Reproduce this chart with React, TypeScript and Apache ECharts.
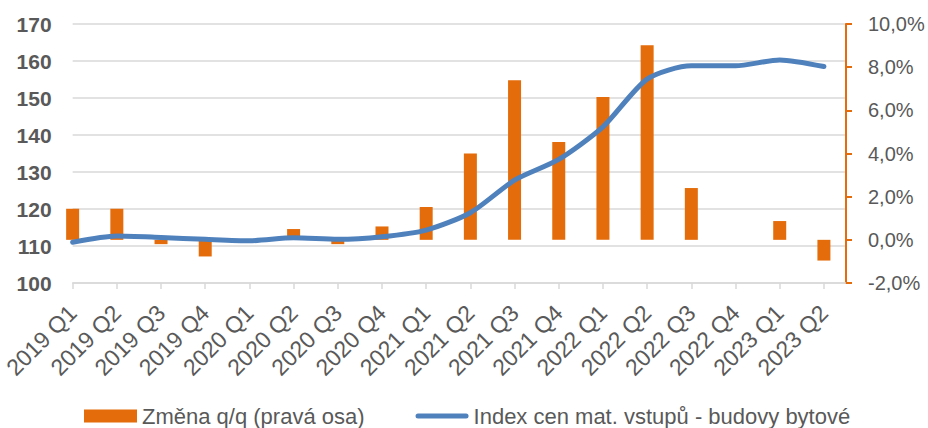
import React, { useEffect, useRef } from "react";
import * as echarts from "echarts";

const categories = [
  "2019 Q1", "2019 Q2", "2019 Q3", "2019 Q4",
  "2020 Q1", "2020 Q2", "2020 Q3", "2020 Q4",
  "2021 Q1", "2021 Q2", "2021 Q3", "2021 Q4",
  "2022 Q1", "2022 Q2", "2022 Q3", "2022 Q4",
  "2023 Q1", "2023 Q2",
];

// Změna q/q (pravá osa), in %
const changeQoQ = [1.44, 1.44, -0.2, -0.77, 0.0, 0.5, -0.2, 0.62, 1.52, 4.0, 7.39, 4.53, 6.62, 9.01, 2.4, 0.0, 0.87, -0.96];

// Index cen mat. vstupů - budovy bytové
const indexValues = [111.0, 112.7, 112.3, 111.8, 111.4, 112.2, 111.8, 112.5, 114.3, 119.0, 127.8, 133.4, 142.2, 155.1, 158.7, 158.7, 160.3, 158.5];

const leftTicks = { min: 100, max: 170, interval: 10 };
const rightTicks = { min: -2, max: 10, interval: 2 };

const barName = "Změna q/q (pravá osa)";
const lineName = "Index cen mat. vstupů - budovy bytové";

const FONT = "'Liberation Sans', Arial, sans-serif";
const GREY = "#595959";
const ORANGE = "#e46c0a";
const BLUE = "#4f81bd";

export default function App() {
  const ref = useRef<HTMLDivElement>(null);

  useEffect(() => {
    if (!ref.current) return;
    const chart = echarts.init(ref.current, null, { renderer: "svg" });
    const idx = categories.map((_, i) => i);
    chart.setOption({
      animation: false,
      backgroundColor: "#ffffff",
      textStyle: { fontFamily: FONT },
      grid: { left: 71, right: 82, top: 24, bottom: 145, containLabel: false },
      legend: {
        top: 400,
        left: 79,
        itemGap: 51,
        itemWidth: 53,
        itemHeight: 13,
        textStyle: { fontFamily: FONT, fontSize: 22, color: GREY },
        data: [
          { name: barName, icon: "rect" },
          {
            name: lineName,
            icon: "path://M2.5,0 H50.5 A2.5,2.5 0 0 1 50.5,5 H2.5 A2.5,2.5 0 0 1 2.5,0 Z",
          },
        ],
      },
      xAxis: {
        type: "value",
        min: 0,
        max: categories.length - 0.5,
        interval: 1,
        axisLine: { onZero: false, show: true, lineStyle: { color: "#d9d9d9", width: 1.5 } },
        axisTick: { show: true, length: 6, customValues: idx, lineStyle: { color: "#d9d9d9", width: 1.5 } },
        splitLine: { show: false },
        axisLabel: {
          customValues: idx,
          rotate: 45,
          margin: 26,
          fontSize: 23,
          color: GREY,
          fontFamily: FONT,
          formatter: (v: number) => categories[Math.round(v)] ?? "",
        },
      },
      yAxis: [
        {
          type: "value",
          position: "left",
          ...leftTicks,
          axisLine: { show: false },
          axisTick: { show: false },
          splitLine: { show: true, lineStyle: { color: "#d9d9d9", width: 1.5 } },
          axisLabel: { fontSize: 21, fontWeight: "bold", color: GREY, margin: 21, fontFamily: FONT },
        },
        {
          type: "value",
          position: "right",
          ...rightTicks,
          axisLine: { show: true, onZero: false, lineStyle: { color: ORANGE, width: 2 } },
          axisTick: { show: true, inside: false, length: 6, lineStyle: { color: ORANGE, width: 2 } },
          splitLine: { show: false },
          axisLabel: {
            fontSize: 20,
            color: GREY,
            margin: 22,
            fontFamily: FONT,
            formatter: (v: number) => v.toFixed(1).replace(".", ",") + "%",
          },
        },
      ],
      series: [
        {
          name: barName,
          type: "bar",
          yAxisIndex: 1,
          barWidth: 13,
          clip: true,
          itemStyle: { color: ORANGE },
          data: changeQoQ.map((v, i) => [i, v]),
          z: 2,
        },
        {
          name: lineName,
          type: "line",
          yAxisIndex: 0,
          smooth: 0.25,
          showSymbol: false,
          symbol: "none",
          lineStyle: { color: BLUE, width: 5, cap: "round", join: "round" },
          itemStyle: { color: BLUE },
          data: indexValues.map((v, i) => [i, v]),
          z: 3,
        },
      ],
    });
    return () => chart.dispose();
  }, []);

  return (
    <div
      ref={ref}
      style={{ position: "fixed", left: 0, top: 0, width: 928, height: 428 }}
    />
  );
}
